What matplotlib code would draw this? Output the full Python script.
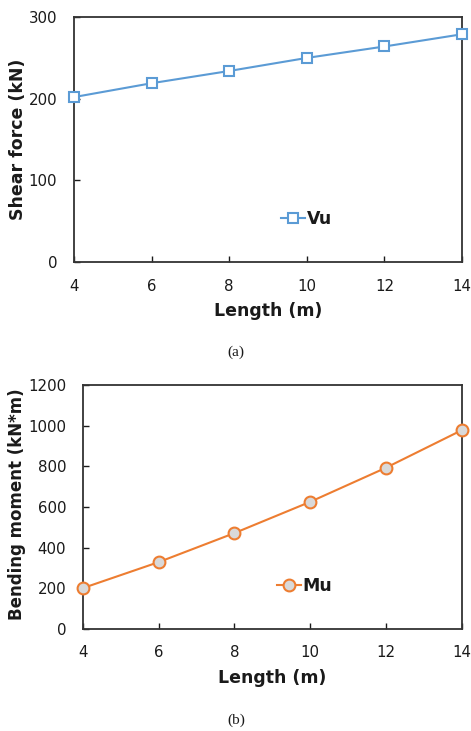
import matplotlib
matplotlib.use("Agg")
import matplotlib.pyplot as plt

length = [4, 6, 8, 10, 12, 14]
vu = [202, 219, 234, 250, 264, 279]
mu = [200, 328, 471, 625, 793, 978]

x_ticks = [4, 6, 8, 10, 12, 14]
vu_ticks = [0, 100, 200, 300]
mu_ticks = [0, 200, 400, 600, 800, 1000, 1200]

plt.rcParams['font.family'] = ['DejaVu Sans']
txt = '#1a1a1a'
fig = plt.figure(figsize=(4.71, 7.31), dpi=100)

def style(ax):
    for s in ax.spines.values():
        s.set_linewidth(1.3)
        s.set_color('#333333')
    ax.tick_params(axis='x', direction='in', length=4, width=1, labelsize=10.8, colors=txt, pad=12)
    ax.tick_params(axis='y', direction='in', length=4, width=1, labelsize=10.8, colors=txt, pad=12)

ax1 = fig.add_axes([0.157, 0.6416, 0.824, 0.335])
ax1.plot(length, vu, color='#5B9BD5', lw=1.5, marker='s', ms=7,
         mfc='white', mec='#5B9BD5', mew=1.5, label='Vu', clip_on=False, zorder=3)
ax1.set_xlim(4, 14)
ax1.set_ylim(0, 300)
ax1.set_xticks(x_ticks)
ax1.set_yticks(vu_ticks)
style(ax1)
ax1.set_xlabel('Length (m)', fontsize=12.5, fontweight='bold', color=txt, labelpad=6)
ax1.set_ylabel('Shear force (kN)', fontsize=12.5, fontweight='bold', color=txt)
ax1.yaxis.set_label_coords(-0.121, 0.5)
ax1.legend(loc='center', bbox_to_anchor=(0.60, 0.175), frameon=False,
           prop={'weight': 'bold', 'size': 12.5}, handlelength=1.4, handletextpad=0.1,
           labelcolor=txt)

ax2 = fig.add_axes([0.176, 0.140, 0.804, 0.333])
ax2.plot(length, mu, color='#ED7D31', lw=1.5, marker='o', ms=8.5,
         mfc='#D9D9D9', mec='#ED7D31', mew=1.5, label='Mu', clip_on=False, zorder=3)
ax2.set_xlim(4, 14)
ax2.set_ylim(0, 1200)
ax2.set_xticks(x_ticks)
ax2.set_yticks(mu_ticks)
style(ax2)
ax2.set_xlabel('Length (m)', fontsize=12.5, fontweight='bold', color=txt, labelpad=6)
ax2.set_ylabel('Bending moment (kN*m)', fontsize=12, fontweight='bold', color=txt)
ax2.yaxis.set_label_coords(-0.150, 0.51)
ax2.legend(loc='center', bbox_to_anchor=(0.585, 0.175), frameon=False,
           prop={'weight': 'bold', 'size': 12.5}, handlelength=1.4, handletextpad=0.1,
           labelcolor=txt)

fig.text(0.501, 1 - 352/731, '(a)', ha='center', va='center', fontsize=11, family='Liberation Serif', color=txt)
fig.text(0.501, 1 - 720/731, '(b)', ha='center', va='center', fontsize=11, family='Liberation Serif', color=txt)

fig.savefig('out.png', dpi=100, facecolor='white')
